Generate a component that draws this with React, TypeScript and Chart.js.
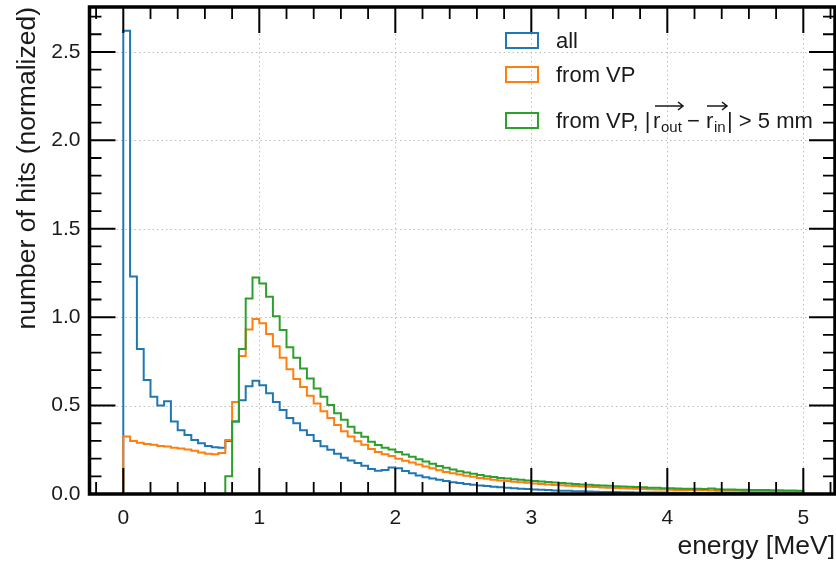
import React, { useEffect, useRef } from "react";
import { Chart, registerables } from "chart.js";

Chart.register(...registerables);

// ---- data (normalized histograms, 100 bins of 0.05 MeV from 0 to 5 MeV) ----
const BIN_WIDTH = 0.05;
const allHits = [
  2.62, 1.23, 0.82, 0.645, 0.55, 0.5, 0.525, 0.41, 0.36, 0.333,
  0.305, 0.287, 0.272, 0.264, 0.262, 0.3, 0.41, 0.53, 0.61, 0.64,
  0.615, 0.57, 0.52, 0.475, 0.43, 0.4, 0.36, 0.333, 0.3, 0.27,
  0.25, 0.228, 0.205, 0.19, 0.175, 0.16, 0.142, 0.132, 0.136, 0.15,
  0.145, 0.13, 0.117, 0.105, 0.095, 0.088, 0.08, 0.073, 0.067, 0.062,
  0.057, 0.052, 0.048, 0.045, 0.041, 0.038, 0.035, 0.032, 0.03, 0.028,
  0.026, 0.024, 0.022, 0.02, 0.019, 0.018, 0.016, 0.015, 0.014, 0.013,
  0.012, 0.012, 0.011, 0.01, 0.01, 0.009, 0.009, 0.008, 0.008, 0.008,
  0.007, 0.007, 0.007, 0.006, 0.006, 0.006, 0.006, 0.005, 0.005, 0.005,
  0.005, 0.005, 0.004, 0.004, 0.004, 0.004, 0.004, 0.004, 0.003, 0.003,
];
const fromVP = [
  0.325, 0.3, 0.29, 0.283, 0.278, 0.272, 0.268, 0.262, 0.258, 0.252,
  0.245, 0.234, 0.228, 0.225, 0.232, 0.305, 0.52, 0.78, 0.93, 0.99,
  0.965, 0.905, 0.835, 0.77, 0.705, 0.65, 0.605, 0.555, 0.512, 0.468,
  0.43, 0.39, 0.355, 0.325, 0.298, 0.278, 0.255, 0.237, 0.225, 0.215,
  0.2, 0.188, 0.178, 0.167, 0.155, 0.145, 0.135, 0.125, 0.117, 0.11,
  0.103, 0.097, 0.091, 0.086, 0.081, 0.077, 0.073, 0.069, 0.066, 0.063,
  0.06, 0.057, 0.054, 0.051, 0.049, 0.047, 0.045, 0.043, 0.041, 0.039,
  0.037, 0.035, 0.034, 0.032, 0.031, 0.029, 0.028, 0.027, 0.026, 0.025,
  0.024, 0.023, 0.023, 0.022, 0.021, 0.021, 0.02, 0.019, 0.019, 0.018,
  0.018, 0.017, 0.017, 0.016, 0.016, 0.015, 0.015, 0.015, 0.014, 0.014,
];
const fromVPDisplaced = [
  0, 0, 0, 0, 0, 0, 0, 0, 0, 0,
  0, 0, 0, 0, 0, 0.1, 0.41, 0.82, 1.105, 1.225,
  1.19, 1.115, 1.005, 0.927, 0.83, 0.77, 0.71, 0.653, 0.597, 0.55,
  0.503, 0.456, 0.42, 0.38, 0.346, 0.324, 0.296, 0.277, 0.262, 0.252,
  0.238, 0.224, 0.21, 0.197, 0.184, 0.171, 0.159, 0.148, 0.138, 0.129,
  0.121, 0.114, 0.107, 0.101, 0.096, 0.091, 0.087, 0.083, 0.08, 0.077,
  0.074, 0.071, 0.068, 0.065, 0.062, 0.059, 0.057, 0.054, 0.052, 0.05,
  0.048, 0.046, 0.044, 0.042, 0.041, 0.039, 0.038, 0.036, 0.035, 0.033,
  0.032, 0.031, 0.03, 0.03, 0.029, 0.028, 0.031, 0.027, 0.026, 0.025,
  0.024, 0.024, 0.023, 0.022, 0.022, 0.021, 0.021, 0.02, 0.02, 0.019,
];
const xTickValues = [0, 1, 2, 3, 4, 5];
const yTickValues = [0, 0.5, 1.0, 1.5, 2.0, 2.5];
const seriesLabels = ["all", "from VP", "from VP, |r_out − r_in| > 5 mm"];
const seriesColors = ["#1f77b4", "#ff7f0e", "#2ca02c"];

const FONT = '"Liberation Sans", Arial, Helvetica, sans-serif';

function toSteps(values: number[]) {
  // point at each bin's left edge; "before" stepping keeps the value until the next edge
  const pts: { x: number; y: number }[] = [{ x: 0, y: 0 }];
  values.forEach((v, i) => pts.push({ x: +(i * BIN_WIDTH).toFixed(2), y: v }));
  const end = +(values.length * BIN_WIDTH).toFixed(2);
  pts.push({ x: end, y: 0 });
  return pts;
}

const decorPlugin = {
  id: "decor",
  beforeDatasetsDraw(chart: any) {
    const { ctx, chartArea: a, scales } = chart;
    ctx.save();
    ctx.strokeStyle = "#bdbdbd";
    ctx.lineWidth = 1;
    ctx.setLineDash([1.5, 3]);
    xTickValues.forEach((v) => {
      const px = Math.round(scales.x.getPixelForValue(v)) + 0.5;
      ctx.beginPath();
      ctx.moveTo(px, a.top);
      ctx.lineTo(px, a.bottom);
      ctx.stroke();
    });
    yTickValues.forEach((v) => {
      const py = Math.round(scales.y.getPixelForValue(v)) + 0.5;
      ctx.beginPath();
      ctx.moveTo(a.left, py);
      ctx.lineTo(a.right, py);
      ctx.stroke();
    });
    ctx.restore();
  },
  afterDatasetsDraw(chart: any) {
    const { ctx, chartArea: a, scales } = chart;
    ctx.save();
    ctx.strokeStyle = "#000";
    const major = 26;
    const minor = 12;
    for (let k = -1; k <= 26; k++) {
      const v = k * 0.2;
      if (v < scales.x.min || v > scales.x.max) continue;
      const isMajor = k % 5 === 0;
      const len = isMajor ? major : minor;
      const px = scales.x.getPixelForValue(v);
      ctx.lineWidth = isMajor ? 2 : 1.8;
      ctx.beginPath();
      ctx.moveTo(px, a.bottom);
      ctx.lineTo(px, a.bottom - len);
      ctx.moveTo(px, a.top);
      ctx.lineTo(px, a.top + len);
      ctx.stroke();
    }
    for (let k = 0; k <= 27; k++) {
      const v = k * 0.1;
      if (v > scales.y.max) continue;
      const isMajor = k % 5 === 0;
      const len = isMajor ? major : minor;
      const py = scales.y.getPixelForValue(v);
      ctx.lineWidth = isMajor ? 2 : 1.8;
      ctx.beginPath();
      ctx.moveTo(a.left, py);
      ctx.lineTo(a.left + len, py);
      ctx.moveTo(a.right, py);
      ctx.lineTo(a.right - len, py);
      ctx.stroke();
    }
    ctx.lineWidth = 3.5;
    ctx.strokeRect(a.left, a.top, a.right - a.left, a.bottom - a.top);

    // legend
    const boxX = 506;
    const boxW = 32;
    const boxH = 15;
    const textX = 556;
    const rows = [48, 82, 128];
    ctx.lineWidth = 2;
    rows.forEach((base, i) => {
      ctx.strokeStyle = seriesColors[i];
      ctx.strokeRect(boxX, base - boxH, boxW, boxH);
    });
    ctx.fillStyle = "#1a1a1a";
    ctx.textBaseline = "alphabetic";
    ctx.textAlign = "left";
    const big = `22px ${FONT}`;
    const small = `15px ${FONT}`;
    ctx.font = big;
    ctx.fillText(seriesLabels[0], textX, rows[0]);
    ctx.fillText(seriesLabels[1], textX, rows[1]);
    const b = rows[2];
    const put = (t: string, f: string, x: number, dy: number) => {
      ctx.font = f;
      ctx.fillText(t, x, b + dy);
    };
    const arrow = (x0: number, x1: number, y: number) => {
      ctx.save();
      ctx.strokeStyle = "#1a1a1a";
      ctx.lineWidth = 1.6;
      ctx.beginPath();
      ctx.moveTo(x0, y);
      ctx.lineTo(x1, y);
      ctx.moveTo(x1 - 5, y - 4);
      ctx.lineTo(x1, y);
      ctx.lineTo(x1 - 5, y + 4);
      ctx.stroke();
      ctx.restore();
    };
    put("from VP, |", big, textX, 0);
    put("r", big, 653, 0);
    put("out", small, 661, 4);
    arrow(655, 683, b - 22);
    put("−", big, 687, 0);
    put("r", big, 706, 0);
    put("in", small, 714, 4);
    arrow(707, 727, b - 22);
    put("| > 5 mm", big, 727, 0);
    ctx.restore();
  },
};

export default function App() {
  const ref = useRef<HTMLCanvasElement | null>(null);
  useEffect(() => {
    if (!ref.current) return;
    const datasets = [allHits, fromVP, fromVPDisplaced].map((vals, i) => ({
      label: seriesLabels[i],
      data: toSteps(vals),
      borderColor: seriesColors[i],
      backgroundColor: seriesColors[i],
      borderWidth: 2,
      stepped: "before" as const,
      pointRadius: 0,
      fill: false,
      order: 2 - i,
    }));
    const zeroPad = (s: any) => {
      s.paddingTop = 0;
      s.paddingBottom = 0;
      s.paddingLeft = 0;
      s.paddingRight = 0;
    };
    const chart = new Chart(ref.current, {
      type: "line",
      data: { datasets },
      options: {
        responsive: false,
        animation: false,
        layout: { padding: { top: 7, right: 1, left: 0, bottom: 0 } },
        plugins: { legend: { display: false }, tooltip: { enabled: false } },
        scales: {
          x: {
            type: "linear",
            min: -0.2485,
            max: 5.233,
            afterBuildTicks: (s: any) => {
              s.ticks = xTickValues.map((v) => ({ value: v }));
            },
            afterFit: (s: any) => {
              s.height = 74;
              zeroPad(s);
            },
            grid: { display: false, drawTicks: false },
            border: { display: false },
            ticks: {
              padding: 12,
              color: "#1a1a1a",
              font: { family: FONT, size: 21 },
              callback: (v: any) => String(v),
              maxRotation: 0,
            },
            title: {
              display: true,
              text: "energy [MeV]",
              align: "end",
              color: "#1a1a1a",
              font: { family: FONT, size: 26.5 },
              padding: { top: 0, bottom: 5 },
            },
          },
          y: {
            type: "linear",
            min: 0,
            max: 2.754,
            afterBuildTicks: (s: any) => {
              s.ticks = yTickValues.map((v) => ({ value: v }));
            },
            afterFit: (s: any) => {
              s.width = 89.5;
              zeroPad(s);
            },
            grid: { display: false, drawTicks: false },
            border: { display: false },
            ticks: {
              padding: 9,
              color: "#1a1a1a",
              font: { family: FONT, size: 21 },
              callback: (v: any) => Number(v).toFixed(1),
            },
            title: {
              display: true,
              text: "number of hits (normalized)",
              align: "end",
              color: "#1a1a1a",
              font: { family: FONT, size: 26.5 },
              padding: { top: 12, bottom: 0 },
            },
          },
        },
      },
      plugins: [decorPlugin],
    });
    return () => chart.destroy();
  }, []);
  return (
    <div style={{ position: "fixed", left: 0, top: 0, width: 836, height: 568, background: "#fff" }}>
      <canvas ref={ref} width={836} height={568} style={{ display: "block" }} />
    </div>
  );
}
